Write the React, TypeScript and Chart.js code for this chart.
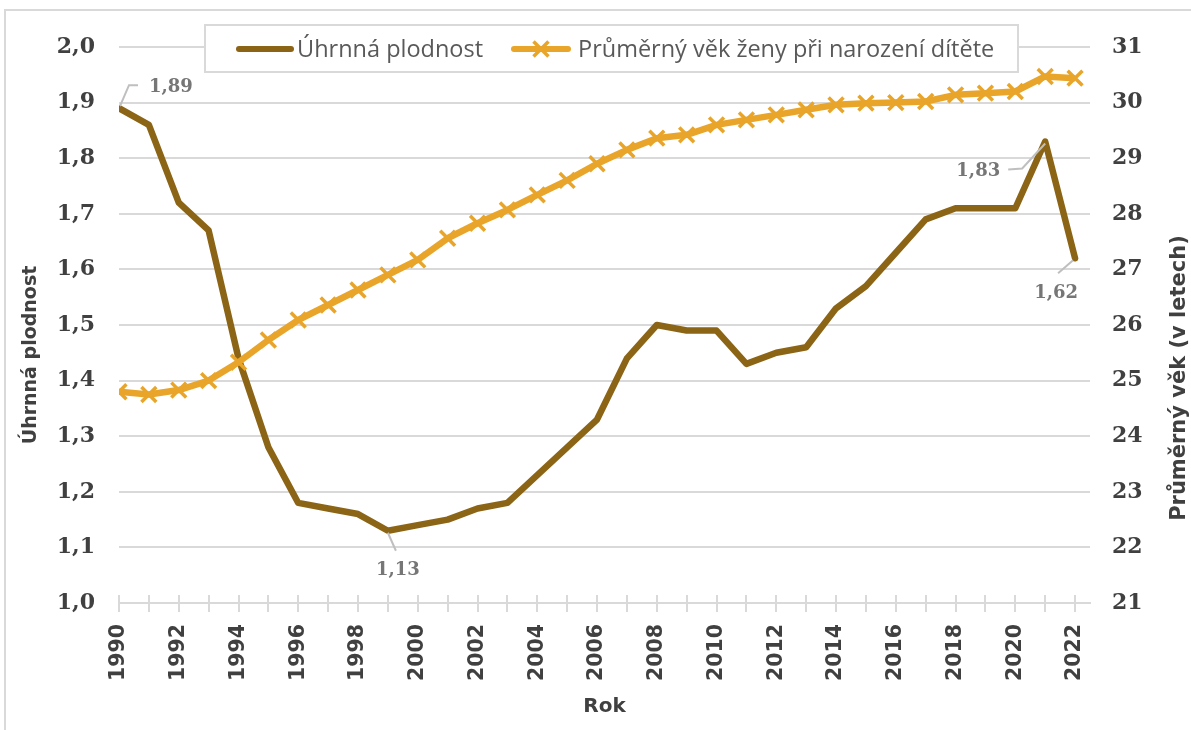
import React, { useEffect, useRef } from 'react';
import { Chart, registerables } from 'chart.js';

Chart.register(...registerables);

const years = [
  1990, 1991, 1992, 1993, 1994, 1995, 1996, 1997, 1998, 1999, 2000, 2001, 2002, 2003, 2004, 2005, 2006,
  2007, 2008, 2009, 2010, 2011, 2012, 2013, 2014, 2015, 2016, 2017, 2018, 2019, 2020, 2021, 2022,
];
const fertility = [
  1.89, 1.86, 1.72, 1.67, 1.44, 1.28, 1.18, 1.17, 1.16, 1.13, 1.14, 1.15, 1.17, 1.18, 1.23, 1.28, 1.33,
  1.44, 1.5, 1.49, 1.49, 1.43, 1.45, 1.46, 1.53, 1.57, 1.63, 1.69, 1.71, 1.71, 1.71, 1.83, 1.62,
];
const meanAge = [
  24.8, 24.75, 24.83, 25.0, 25.33, 25.73, 26.09, 26.36, 26.63, 26.9, 27.17, 27.56, 27.83, 28.07, 28.34,
  28.6, 28.9, 29.15, 29.36, 29.42, 29.6, 29.69, 29.78, 29.87, 29.96, 29.99, 30.0, 30.02, 30.14, 30.17,
  30.2, 30.47, 30.44,
];
const seriesNames = ['Úhrnná plodnost', 'Průměrný věk ženy při narození dítěte'];
const axisTitles = { x: 'Rok', left: 'Úhrnná plodnost', right: 'Průměrný věk (v letech)' };
const labelledYears = [1990, 1999, 2021, 2022];

const BROWN = '#8C6416';
const ORANGE = '#E8A52A';
const GRID = '#d9d9d9';
const TEXT = '#404040';
const LABEL = '#767676';

const fmt = (v: number) => v.toFixed(2).replace('.', ',');

// leader-line / label placement offsets (style only)
const labelStyle: Record<number, { leader: number[][]; dx: number; dy: number; align: CanvasTextAlign }> = {
  1990: { leader: [[1, -2], [10, -23], [19, -23]], dx: 30, dy: -21, align: 'left' },
  1999: { leader: [[0, 2], [8, 20]], dx: 10, dy: 40, align: 'center' },
  2021: { leader: [[0, 2], [-23, 27], [-37, 28]], dx: -45, dy: 30, align: 'right' },
  2022: { leader: [[-2, 2], [-17, 15]], dx: -19, dy: 35, align: 'center' },
};

const decorPlugin = {
  id: 'decor',
  beforeDatasetsDraw(chart: any) {
    const { ctx, chartArea, scales } = chart;
    ctx.save();
    ctx.strokeStyle = GRID;
    ctx.lineWidth = 2;
    for (const yr of years) {
      const px = Math.round(scales.x.getPixelForValue(yr));
      ctx.beginPath();
      ctx.moveTo(px, chartArea.bottom - 8);
      ctx.lineTo(px, chartArea.bottom + 9);
      ctx.stroke();
    }
    ctx.restore();
  },
  afterDatasetsDraw(chart: any) {
    const { ctx, scales } = chart;
    ctx.save();
    for (const yr of labelledYears) {
      const i = years.indexOf(yr);
      const px = scales.x.getPixelForValue(yr);
      const py = scales.y.getPixelForValue(fertility[i]);
      const st = labelStyle[yr];
      ctx.strokeStyle = '#bfbfbf';
      ctx.lineWidth = 2;
      ctx.beginPath();
      st.leader.forEach(([dx, dy], k) => {
        if (k === 0) ctx.moveTo(px + dx, py + dy);
        else ctx.lineTo(px + dx, py + dy);
      });
      ctx.stroke();
      ctx.fillStyle = LABEL;
      ctx.font = 'bold 18px "DejaVu Serif"';
      ctx.textAlign = st.align;
      ctx.textBaseline = 'middle';
      ctx.fillText(fmt(fertility[i]), px + st.dx, py + st.dy);
    }
    ctx.restore();
  },
  afterDraw(chart: any) {
    const { ctx } = chart;
    ctx.save();
    // outer border
    ctx.strokeStyle = GRID;
    ctx.lineWidth = 2;
    ctx.strokeRect(5, 10, 1250, 800);
    // legend
    ctx.fillStyle = '#ffffff';
    ctx.fillRect(205, 25, 813, 47);
    ctx.strokeRect(205, 25, 813, 47);
    ctx.lineCap = 'round';
    ctx.lineWidth = 6;
    ctx.strokeStyle = BROWN;
    ctx.beginPath();
    ctx.moveTo(239, 49);
    ctx.lineTo(291, 49);
    ctx.stroke();
    ctx.strokeStyle = ORANGE;
    ctx.beginPath();
    ctx.moveTo(514, 49);
    ctx.lineTo(568, 49);
    ctx.stroke();
    ctx.lineWidth = 3.5;
    ctx.lineCap = 'butt';
    const r = 7.5;
    ctx.beginPath();
    ctx.moveTo(541 - r, 49 - r);
    ctx.lineTo(541 + r, 49 + r);
    ctx.moveTo(541 + r, 49 - r);
    ctx.lineTo(541 - r, 49 + r);
    ctx.stroke();
    ctx.fillStyle = '#595959';
    ctx.font = '23.5px "Open Sans"';
    ctx.textAlign = 'left';
    ctx.textBaseline = 'alphabetic';
    ctx.fillText(seriesNames[0], 297, 57);
    ctx.fillText(seriesNames[1], 578, 57);
    // vertical axis titles
    ctx.fillStyle = TEXT;
    ctx.textAlign = 'center';
    ctx.textBaseline = 'middle';
    ctx.save();
    ctx.translate(31, 355);
    ctx.rotate(-Math.PI / 2);
    ctx.font = 'bold 19px "DejaVu Sans"';
    ctx.fillText(axisTitles.left, 0, 0);
    ctx.restore();
    ctx.save();
    ctx.translate(1180, 378);
    ctx.rotate(-Math.PI / 2);
    ctx.font = 'bold 21px "DejaVu Sans"';
    ctx.fillText(axisTitles.right, 0, 0);
    ctx.restore();
    ctx.restore();
  },
};

export default function App() {
  const ref = useRef<HTMLCanvasElement | null>(null);
  useEffect(() => {
    if (!ref.current) return;
    const chart = new Chart(ref.current, {
      type: 'line',
      data: {
        datasets: [
          {
            label: seriesNames[0],
            data: years.map((x, i) => ({ x, y: fertility[i] })),
            yAxisID: 'y',
            borderColor: BROWN,
            backgroundColor: BROWN,
            borderWidth: 6.5,
            pointRadius: 0,
            tension: 0,
            borderJoinStyle: 'round',
            borderCapStyle: 'round',
            order: 1,
          },
          {
            label: seriesNames[1],
            data: years.map((x, i) => ({ x, y: meanAge[i] })),
            yAxisID: 'y1',
            borderColor: ORANGE,
            backgroundColor: ORANGE,
            borderWidth: 6.5,
            pointStyle: 'crossRot',
            pointRadius: 10.5,
            pointBorderWidth: 3.5,
            pointBorderColor: ORANGE,
            pointBackgroundColor: ORANGE,
            tension: 0,
            borderJoinStyle: 'round',
            order: 0,
          },
        ],
      },
      options: {
        responsive: false,
        animation: false,
        devicePixelRatio: 1,
        events: [],
        layout: { padding: { top: 47, left: 0, right: 0, bottom: 0 } },
        plugins: { legend: { display: false }, tooltip: { enabled: false } },
        scales: {
          x: {
            type: 'linear',
            min: 1990,
            max: 2022.5,
            afterFit: (s: any) => {
              s.height = 127;
            },
            grid: { display: false, drawTicks: false },
            border: { display: true, color: GRID, width: 2 },
            ticks: {
              stepSize: 1,
              includeBounds: false,
              autoSkip: false,
              maxRotation: 90,
              minRotation: 90,
              padding: 21,
              color: TEXT,
              font: { family: 'DejaVu Sans', weight: 'bold', size: 20.5 },
              callback: (v: any) => (Number(v) % 2 === 0 ? String(v) : ''),
            },
            title: {
              display: true,
              text: axisTitles.x,
              color: TEXT,
              font: { family: 'DejaVu Sans', weight: 'bold', size: 20, lineHeight: 1.2 },
              padding: { top: 0, bottom: 11 },
            },
          },
          y: {
            position: 'left',
            min: 1,
            max: 2,
            afterFit: (s: any) => {
              s.width = 119;
            },
            grid: { color: GRID, lineWidth: 2, drawTicks: false },
            border: { display: false },
            ticks: {
              stepSize: 0.1,
              padding: 24,
              color: TEXT,
              font: { family: 'DejaVu Serif', weight: 'bold', size: 22 },
              callback: (v: any) => Number(v).toFixed(1).replace('.', ','),
            },
          },
          y1: {
            position: 'right',
            min: 21,
            max: 31,
            afterFit: (s: any) => {
              s.width = 101;
            },
            grid: { display: false, drawTicks: false },
            border: { display: false },
            ticks: {
              stepSize: 1,
              padding: 22,
              color: TEXT,
              font: { family: 'DejaVu Serif', weight: 'bold', size: 22 },
            },
          },
        },
      },
      plugins: [decorPlugin],
    } as any);
    return () => chart.destroy();
  }, []);
  return (
    <div style={{ position: 'fixed', left: 0, top: 0, width: 1191, height: 730, background: '#fff' }}>
      <canvas ref={ref} width={1191} height={730} style={{ display: 'block' }} />
    </div>
  );
}
